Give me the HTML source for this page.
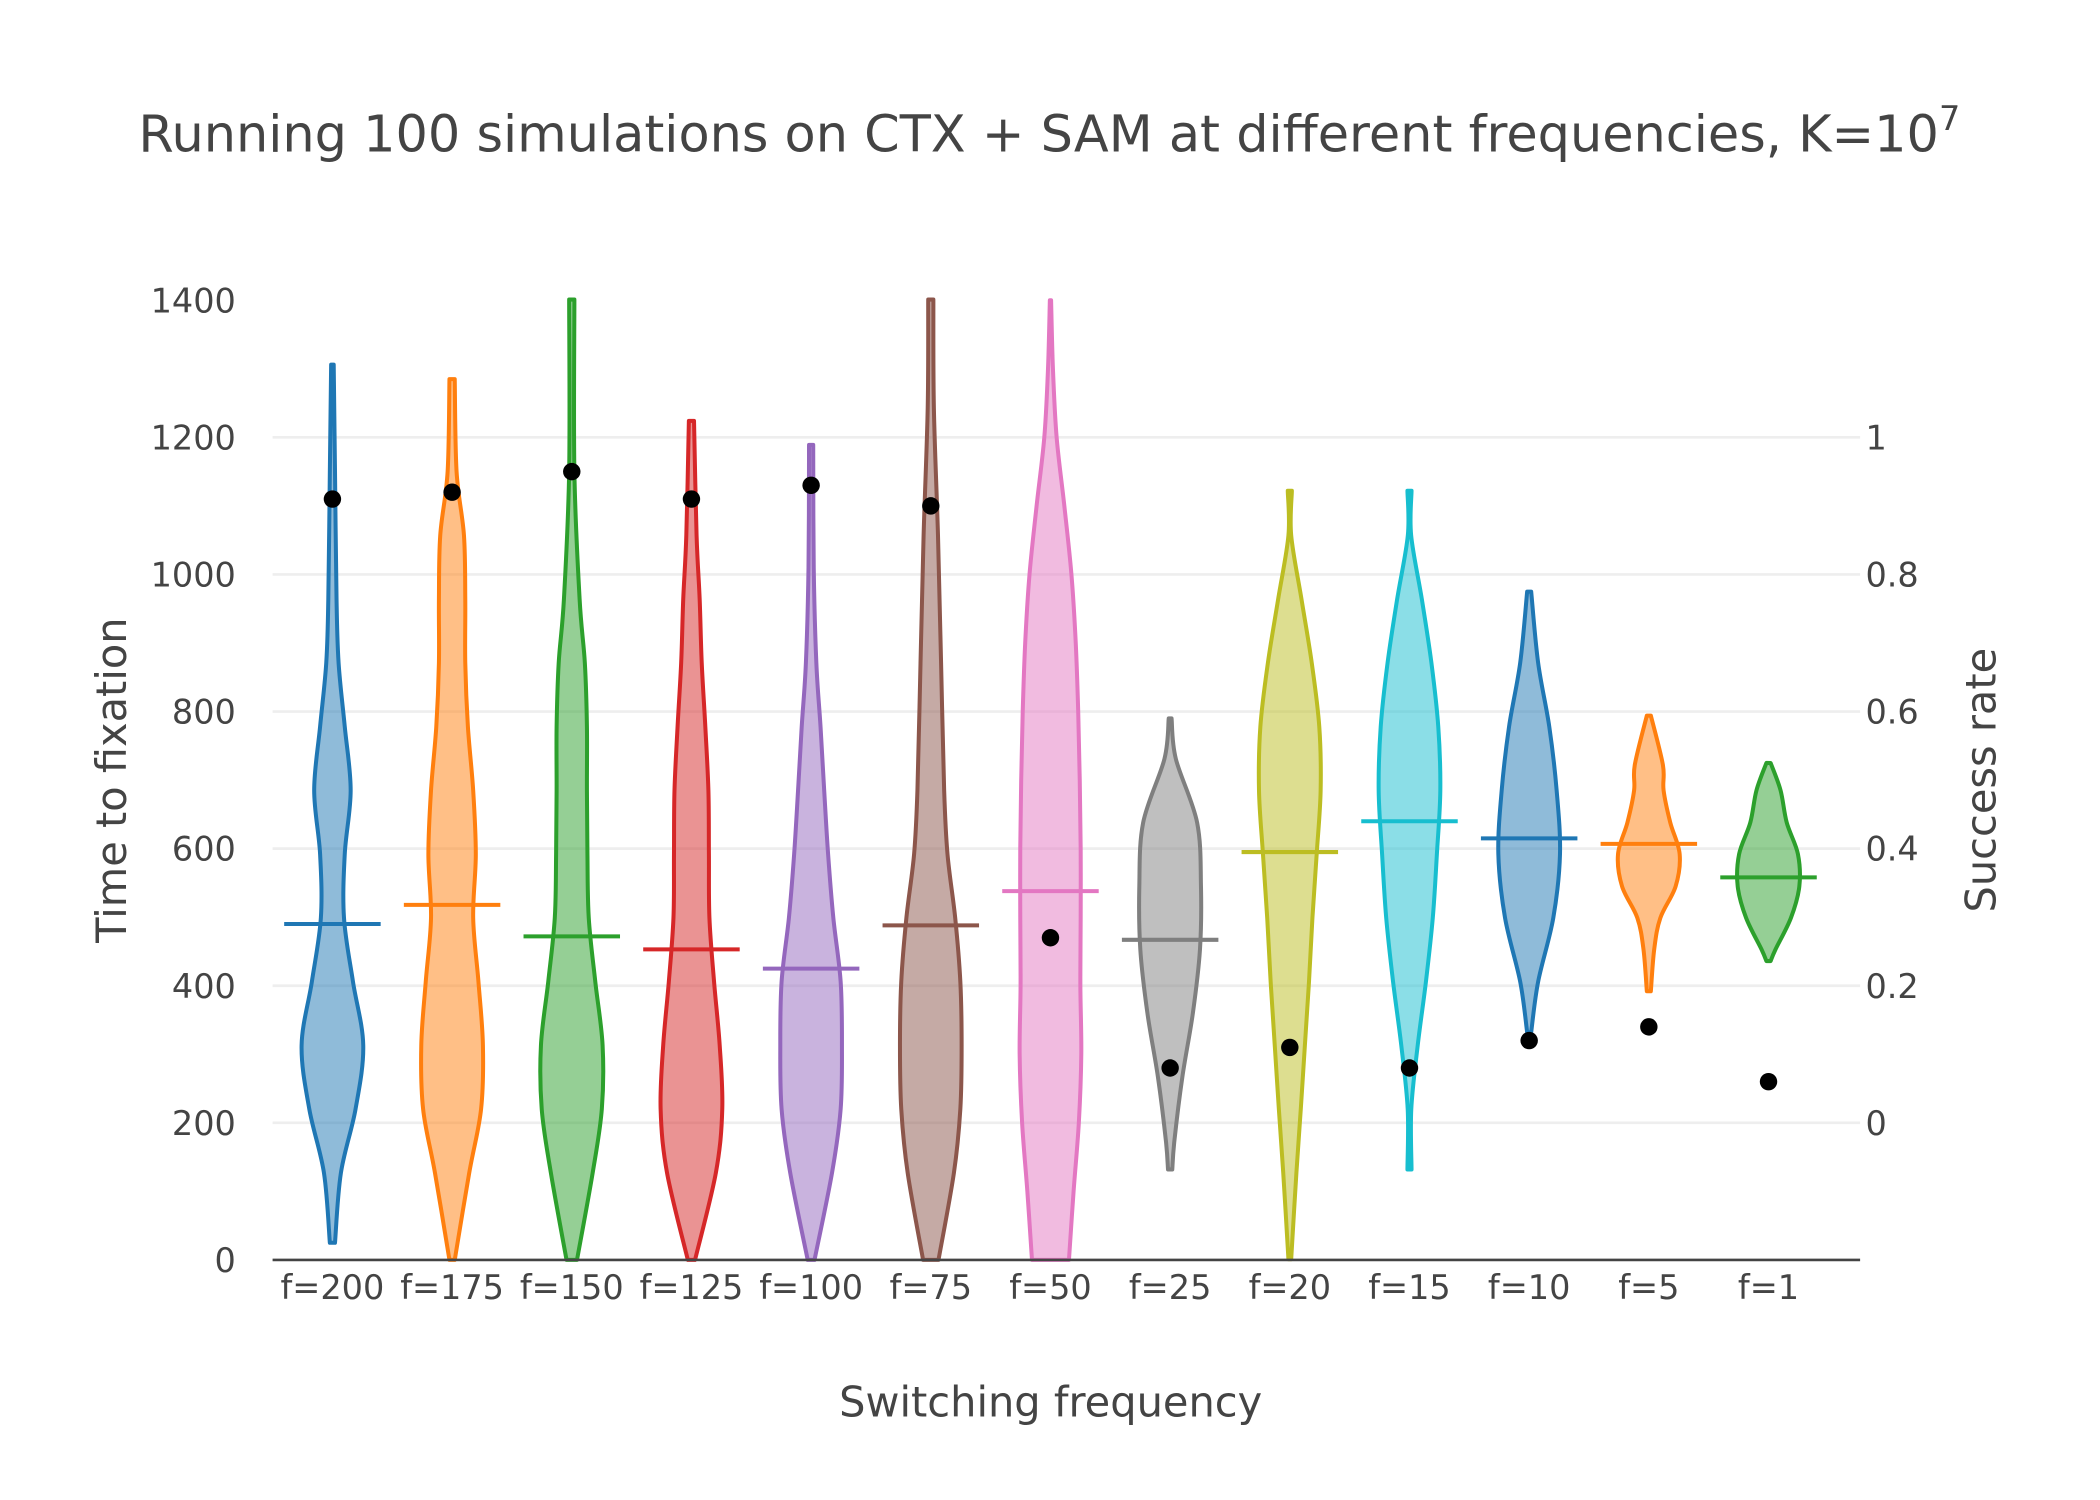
<!DOCTYPE html>
<html><head><meta charset="utf-8">
<style>
html,body{margin:0;padding:0;background:#fff;}
svg{display:block;font-family:"DejaVu Sans","Liberation Sans",sans-serif;}
</style></head>
<body>
<svg id="chart" width="2100" height="1500" viewBox="0 0 1567 1119" xmlns="http://www.w3.org/2000/svg">
<rect width="1567" height="1119" fill="#fff"/>
<g id="grid"></g>
<g id="violins"></g>
<g id="axes"></g>
<text x="783" y="113" text-anchor="middle" font-size="38" fill="#444">Running 100 simulations on CTX + SAM at different frequencies, K=10<tspan dy="-16" font-size="25">7</tspan></text>
<text x="784" y="1057" text-anchor="middle" font-size="31" fill="#444">Switching frequency</text>
<text transform="translate(94,582) rotate(-90)" text-anchor="middle" font-size="31" fill="#444">Time to fixation</text>
<text transform="translate(1489,582) rotate(-90)" text-anchor="middle" font-size="31" fill="#444">Success rate</text>
</svg>
<script>
const categories = ["f=200","f=175","f=150","f=125","f=100","f=75","f=50","f=25","f=20","f=15","f=10","f=5","f=1"];
const medians = [490,518,472,453,425,488,538,467,595,640,615,607,558];
const successRates = [0.91,0.92,0.95,0.91,0.93,0.90,0.27,0.08,0.11,0.08,0.12,0.14,0.06];
const yTicks = [0,200,400,600,800,1000,1200,1400];
const y2Ticks = [0,0.2,0.4,0.6,0.8,1];
const y2TickLabels = ["0","0.2","0.4","0.6","0.8","1"];
// density profiles: [value, relative width]
const densities = [
 [[1306,1],[1150,2],[964,3.2],[871,4.8],[778,9.6],[685,14.2],[592,9.6],[499,9],[406,16],[313,24],[220,18],[127,6.6],[25,2]],
 [[1285,10],[1150,17],[1057,45],[964,50],[871,50],[778,60],[685,80],[592,90],[499,80],[406,100],[313,117],[220,110],[127,65],[0,10]],
 [[1401,10],[1150,10],[964,30],[871,50],[778,58],[685,58],[592,60],[499,65],[406,90],[313,118],[220,115],[127,80],[0,20]],
 [[1224,10],[1057,20],[964,32],[871,40],[778,54],[685,66],[592,68],[499,70],[406,88],[313,110],[220,120],[127,95],[0,14]],
 [[1189,8],[1010,10],[871,20],[778,36],[685,50],[592,65],[499,85],[406,113],[313,118],[220,113],[127,80],[0,13]],
 [[1401,10],[1243,12],[1057,28],[871,40],[685,52],[592,65],[499,95],[406,115],[313,120],[220,115],[127,90],[0,30]],
 [[1400,2],[1300,8],[1200,20],[1100,45],[1000,68],[900,82],[800,90],[700,95],[600,98],[500,98],[400,97],[300,100],[200,92],[100,75],[0,60]],
 [[790,1],[731,4],[638,19],[545,21.7],[453,21],[360,16],[267,8.6],[174,3],[132,1.5]],
 [[1122,1.5],[1057,1],[964,8.5],[871,16],[778,21.5],[685,22.5],[592,19.6],[499,16.5],[406,14],[313,11],[220,8],[127,4.8],[1,1]],
 [[1122,1.5],[1057,1.2],[964,9],[871,16],[778,21],[685,22.5],[592,20],[499,17],[406,12],[313,6],[220,1.3],[132,1.5]],
 [[975,1.5],[871,6.7],[778,15],[685,20.5],[592,23],[499,18],[406,6.7],[332,1.5]],
 [[794,1.5],[722,10.5],[685,11],[638,16],[592,23],[545,20],[499,8.6],[453,4],[392,1.5]],
 [[725,1.5],[685,8.6],[638,13],[592,21],[545,22],[499,16],[453,5],[436,1.5]]
];
const colors = ["#1f77b4","#ff7f0e","#2ca02c","#d62728","#9467bd","#8c564b","#e377c2","#7f7f7f","#bcbd22","#17becf","#1f77b4","#ff7f0e","#2ca02c"];

const NS="http://www.w3.org/2000/svg";
const X0=203.4, STEP=89.3, Y0=940, PX_PER_UNIT=102.3/200, MAXHALF=23;
function xScale(i){return X0+STEP*(i+0.5);}
function yScale(v){return Y0-v*PX_PER_UNIT;}
function y2Scale(v){return yScale(200+v*1000);}
function mk(tag,attrs,parent){const e=document.createElementNS(NS,tag);for(const k in attrs)e.setAttribute(k,attrs[k]);parent.appendChild(e);return e;}

const grid=document.getElementById('grid'), vg=document.getElementById('violins'), ax=document.getElementById('axes');
yTicks.forEach(t=>{
  if(t>0 && t<1400){
    const l=mk('line',{x1:X0,x2:1388,y1:yScale(t),y2:yScale(t),stroke:'#eee','stroke-width':2},grid);
    
    
  }
  const tx=mk('text',{x:176,y:yScale(t)+9,'text-anchor':'end','font-size':25,fill:'#444'},ax);
  tx.textContent=t;
  
  
});
y2Ticks.forEach((t,i)=>{
  const tx=mk('text',{x:1392,y:y2Scale(t)+9,'text-anchor':'start','font-size':25,fill:'#444'},ax);
  tx.textContent=y2TickLabels[i];
  
  
});
const axl=mk('line',{x1:X0,x2:1388,y1:Y0,y2:Y0,stroke:'#444','stroke-width':2},ax);



function smoothPath(pts){
  let d='M'+pts[0][0]+','+pts[0][1];
  for(let i=0;i<pts.length-1;i++){
    const p0=pts[i-1]||pts[i],p1=pts[i],p2=pts[i+1],p3=pts[i+2]||p2;
    const c1=[p1[0]+(p2[0]-p0[0])/6,p1[1]+(p2[1]-p0[1])/6];
    const c2=[p2[0]-(p3[0]-p1[0])/6,p2[1]-(p3[1]-p1[1])/6];
    d+=' C'+c1[0].toFixed(2)+','+c1[1].toFixed(2)+' '+c2[0].toFixed(2)+','+c2[1].toFixed(2)+' '+p2[0].toFixed(2)+','+p2[1].toFixed(2);
  }
  return d;
}
categories.forEach((c,i)=>{
  const cx=xScale(i);
  const prof=densities[i];
  const mx=Math.max(...prof.map(p=>p[1]));
  const right=prof.map(p=>[cx+MAXHALF*p[1]/mx,yScale(p[0])]);
  const left=prof.slice().reverse().map(p=>[cx-MAXHALF*p[1]/mx,yScale(p[0])]);
  let d=smoothPath(right);
  d+=' L'+left[0][0]+','+left[0][1]+' '+smoothPath(left).slice(1)+' Z';
  const g=mk('g',{},vg);
  
  
  const p=mk('path',{d:d,fill:colors[i],'fill-opacity':0.5,stroke:colors[i],'stroke-width':3,'stroke-linejoin':'round'},g);
  
  
  const m=mk('line',{x1:cx-36,x2:cx+36,y1:yScale(medians[i]),y2:yScale(medians[i]),stroke:colors[i],'stroke-width':3},g);
  
  
  const dot=mk('circle',{cx:cx,cy:y2Scale(successRates[i]),r:6.5,fill:'#000'},vg);
  
  
  const tx=mk('text',{x:cx,y:969,'text-anchor':'middle','font-size':25,fill:'#444'},ax);
  tx.textContent=c;
  
  
});
</script>
</body></html>
